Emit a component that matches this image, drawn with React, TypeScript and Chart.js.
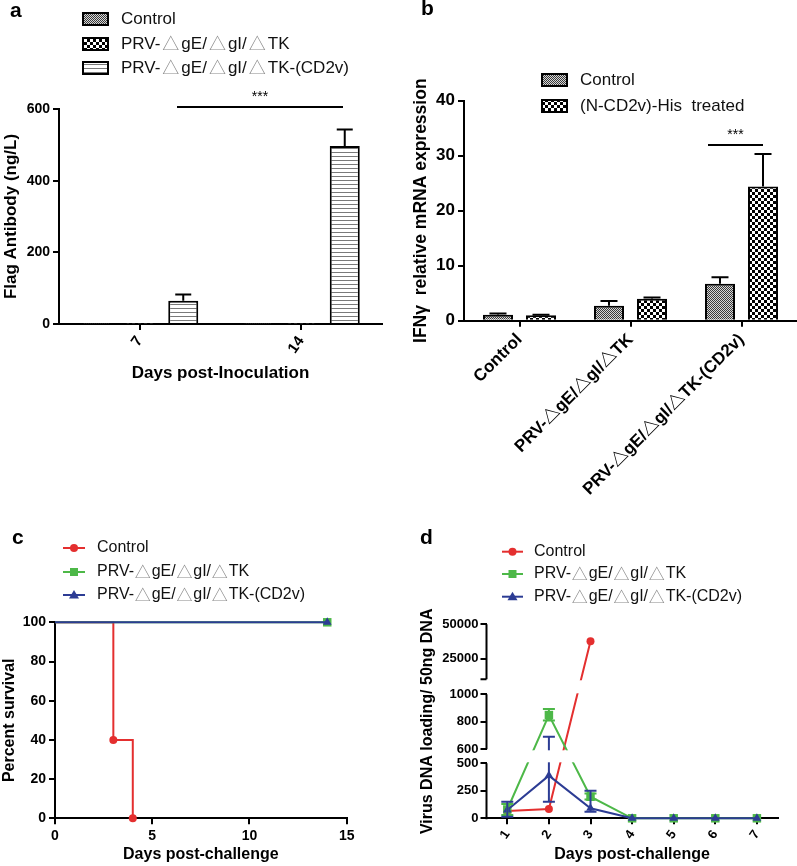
import React, { useEffect, useRef } from 'react';
import { Chart, registerables } from 'chart.js';

Chart.register(...registerables);

const FONT = "'Liberation Sans', 'Noto Sans CJK SC', sans-serif";
const TRI_FONT = "'Noto Sans CJK SC', sans-serif";
const RED = '#e42f2f';
const GREEN = '#4db848';
const BLUE = '#2c3c94';

// ---------- Panel a ----------
const aCategories = ['7', '14'];
const aSeriesNames = ['Control', 'PRV-△gE/△gI/△TK', 'PRV-△gE/△gI/△TK-(CD2v)'];
const aControl = [1.5, 1.5];
const aPRV = [1.5, 1.5];
const aCD2v = [65, 497];
const aCD2vErr = [17, 46];

// ---------- Panel b ----------
const bCategories = ['Control', 'PRV-△gE/△gI/△TK', 'PRV-△gE/△gI/△TK-(CD2v)'];
const bSeriesNames = ['Control', '(N-CD2v)-His  treated'];
const bControl = [1.1, 2.7, 6.7];
const bControlErr = [0.2, 0.9, 1.2];
const bTreated = [1.0, 4.0, 24.4];
const bTreatedErr = [0.1, 0.2, 5.9];

// ---------- Panel c ----------
const cSeriesNames = ['Control', 'PRV-△gE/△gI/△TK', 'PRV-△gE/△gI/△TK-(CD2v)'];
const cControlDays = [0, 3, 4];
const cControlSurvival = [100, 40, 0];
const cVaccineDays = [0, 14];
const cPRVSurvival = [100, 100];
const cCD2vSurvival = [100, 100];

// ---------- Panel d ----------
const dSeriesNames = ['Control', 'PRV-△gE/△gI/△TK', 'PRV-△gE/△gI/△TK-(CD2v)'];
const dDays = ['1', '2', '3', '4', '5', '6', '7'];
const dControl = [66, 85, 37700, null, null, null, null];
const dPRV = [80, 849, 196, 0, 0, 0, 0];
const dPRVLow = [30, 810, 170, 0, 0, 0, 0];
const dPRVHigh = [130, 893, 225, 0, 0, 0, 0];
const dCD2v = [75, 388, 91, 0, 0, 0, 0];
const dCD2vLow = [15, 150, 60, 0, 0, 0, 0];
const dCD2vHigh = [150, 692, 250, 0, 0, 0, 0];
const dTickValues = [0, 250, 500, 600, 800, 1000, 25000, 50000];
const dTickLabels = ['0', '250', '500', '600', '800', '1000', '25000', '50000'];
const dSegments = [[0, 500], [600, 1000], [10000, 50000]];

// broken-axis geometry (display units of the y scale)
const D_SEG_LEN = 55;
const D_GAPS = [14, 15];
const D_MAX = D_SEG_LEN * 3 + D_GAPS[0] + D_GAPS[1];

function dMap(v: number): number {
  let base = 0;
  for (let i = 0; i < dSegments.length; i++) {
    const [lo, hi] = dSegments[i];
    if (v <= hi || i === dSegments.length - 1) {
      if (v < lo && i > 0) {
        const phi = dSegments[i - 1][1];
        return base - D_GAPS[i - 1] + ((v - phi) / (lo - phi)) * D_GAPS[i - 1];
      }
      return base + ((v - lo) / (hi - lo)) * D_SEG_LEN;
    }
    base += D_SEG_LEN + (D_GAPS[i] ?? 0);
  }
  return base;
}

function makePattern(kind: 'fine' | 'check' | 'stripe'): CanvasPattern {
  const c = document.createElement('canvas');
  const g = c.getContext('2d')!;
  if (kind === 'fine') {
    c.width = 2; c.height = 2;
    g.fillStyle = '#d6d6d6'; g.fillRect(0, 0, 2, 2);
    g.fillStyle = '#3a3a3a'; g.fillRect(0, 0, 1, 1); g.fillRect(1, 1, 1, 1);
  } else if (kind === 'check') {
    c.width = 6; c.height = 6;
    g.fillStyle = '#fff'; g.fillRect(0, 0, 6, 6);
    g.fillStyle = '#000'; g.fillRect(0, 0, 3, 3); g.fillRect(3, 3, 3, 3);
  } else {
    c.width = 4; c.height = 4;
    g.fillStyle = '#fff'; g.fillRect(0, 0, 4, 4);
    g.fillStyle = '#7a7a7a'; g.fillRect(0, 0, 4, 1);
  }
  return g.createPattern(c, 'repeat')!;
}

function drawRich(ctx: CanvasRenderingContext2D, text: string, x: number, y: number, size: number, triPad: number) {
  const parts = text.split(/(△)/);
  let cx = x;
  for (const p of parts) {
    if (!p) continue;
    if (p === '△') {
      ctx.font = `${size}px ${TRI_FONT}`;
      ctx.fillStyle = '#8c8c8c';
      cx += triPad;
      ctx.fillText(p, cx, y);
      cx += ctx.measureText(p).width + triPad;
    } else {
      ctx.font = `${size}px ${FONT}`;
      ctx.fillStyle = '#111';
      ctx.fillText(p, cx, y);
      cx += ctx.measureText(p).width;
    }
  }
}

function drawMarker(ctx: CanvasRenderingContext2D, style: string, x: number, y: number, color: string) {
  ctx.fillStyle = color;
  ctx.beginPath();
  if (style === 'circle') {
    ctx.arc(x, y, 4, 0, Math.PI * 2);
  } else if (style === 'rect') {
    ctx.rect(x - 4, y - 4, 8, 8);
  } else {
    ctx.moveTo(x, y - 5);
    ctx.lineTo(x + 5, y + 3.5);
    ctx.lineTo(x - 5, y + 3.5);
    ctx.closePath();
  }
  ctx.fill();
}

function panelLetter(ctx: CanvasRenderingContext2D, letter: string, x: number, y: number) {
  ctx.save();
  ctx.font = `bold 21px ${FONT}`;
  ctx.fillStyle = '#000';
  ctx.textBaseline = 'alphabetic';
  ctx.fillText(letter, x, y);
  ctx.restore();
}

function barLegend(ctx: CanvasRenderingContext2D, labels: string[], fills: any[], x: number, ys: number[], textX: number) {
  ctx.save();
  ctx.textBaseline = 'middle';
  labels.forEach((lab, i) => {
    ctx.fillStyle = fills[i];
    ctx.fillRect(x, ys[i] - 6, 25, 12);
    ctx.strokeStyle = '#000';
    ctx.lineWidth = 2;
    ctx.strokeRect(x, ys[i] - 6, 25, 12);
    drawRich(ctx, lab, textX, ys[i], 17, 2);
  });
  ctx.restore();
}

function lineLegend(ctx: CanvasRenderingContext2D, labels: string[], colors: string[], styles: string[], x1: number, x2: number, ys: number[], textX: number) {
  ctx.save();
  ctx.textBaseline = 'middle';
  labels.forEach((lab, i) => {
    ctx.strokeStyle = colors[i];
    ctx.lineWidth = 2;
    ctx.beginPath();
    ctx.moveTo(x1, ys[i]);
    ctx.lineTo(x2, ys[i]);
    ctx.stroke();
    drawMarker(ctx, styles[i], (x1 + x2) / 2, ys[i], colors[i]);
    drawRich(ctx, lab, textX, ys[i], 16, 0.8);
  });
  ctx.restore();
}

function sigMark(ctx: CanvasRenderingContext2D, x1: number, x2: number, y: number) {
  ctx.save();
  ctx.strokeStyle = '#000';
  ctx.lineWidth = 2;
  ctx.beginPath();
  ctx.moveTo(x1, y);
  ctx.lineTo(x2, y);
  ctx.stroke();
  ctx.font = `14px ${FONT}`;
  ctx.fillStyle = '#000';
  ctx.textAlign = 'center';
  ctx.textBaseline = 'alphabetic';
  ctx.fillText('***', (x1 + x2) / 2, y - 6);
  ctx.restore();
}

function barErrorPlugin(specs: { ds: number; err: number[] }[], cap: number) {
  return {
    id: 'barErrors',
    afterDatasetsDraw(chart: any) {
      const ctx = chart.ctx;
      const y = chart.scales.y;
      ctx.save();
      ctx.strokeStyle = '#000';
      ctx.lineWidth = 2;
      specs.forEach((s) => {
        const meta = chart.getDatasetMeta(s.ds);
        const values = chart.data.datasets[s.ds].data as number[];
        meta.data.forEach((el: any, i: number) => {
          const e = s.err[i];
          if (!e) return;
          const top = y.getPixelForValue(values[i]);
          const hi = y.getPixelForValue(values[i] + e);
          ctx.beginPath();
          ctx.moveTo(el.x, top);
          ctx.lineTo(el.x, hi);
          ctx.moveTo(el.x - cap / 2, hi);
          ctx.lineTo(el.x + cap / 2, hi);
          ctx.stroke();
        });
      });
      ctx.restore();
    },
  };
}

function axisStyle(fontSize: number, extraTicks: any = {}, extraGrid: any = {}) {
  return {
    border: { display: true, color: '#000', width: 2 },
    grid: { display: true, drawOnChartArea: false, drawTicks: true, tickLength: 6, color: '#000', lineWidth: 2, ...extraGrid },
    ticks: { color: '#000', font: { family: FONT, size: fontSize, weight: 'bold' }, padding: 3, ...extraTicks },
  };
}

function axisTitle(text: string, size: number, padTop: number) {
  return { display: true, text, color: '#000', font: { family: FONT, size, weight: 'bold' }, padding: { top: padTop, bottom: 0 } };
}

export default function App() {
  const refA = useRef<HTMLCanvasElement>(null);
  const refB = useRef<HTMLCanvasElement>(null);
  const refC = useRef<HTMLCanvasElement>(null);
  const refD = useRef<HTMLCanvasElement>(null);

  useEffect(() => {
    const fine = makePattern('fine');
    const check = makePattern('check');
    const stripe = makePattern('stripe');

    // ---------------- Panel a ----------------
    const aFills = [fine, check, stripe];
    const chartA = new Chart(refA.current!, {
      type: 'bar',
      data: {
        labels: aCategories,
        datasets: [aControl, aPRV, aCD2v].map((d, i) => ({
          label: aSeriesNames[i],
          data: d,
          backgroundColor: aFills[i],
          borderColor: '#000',
          borderWidth: 2,
          categoryPercentage: 0.808,
          barPercentage: 0.69,
        })),
      },
      options: {
        responsive: false,
        animation: false,
        layout: { padding: { left: 0, top: 109, right: 16, bottom: 36.8 } },
        plugins: { legend: { display: false }, tooltip: { enabled: false } },
        scales: {
          x: {
            ...axisStyle(15, { minRotation: 55, maxRotation: 55 }, { offset: false }),
            title: axisTitle('Days post-Inoculation', 17, 0),
            afterFit: (s: any) => { s.height = 59.2; },
          },
          y: {
            ...axisStyle(14, { stepSize: 200 }),
            min: 0,
            max: 600,
            title: axisTitle('Flag Antibody (ng/L)', 17, 1),
            afterFit: (s: any) => { s.width = 59; },
          },
        },
      } as any,
      plugins: [
        barErrorPlugin([{ ds: 2, err: aCD2vErr }], 16),
        {
          id: 'decorA',
          afterDraw(chart: any) {
            const ctx = chart.ctx;
            panelLetter(ctx, 'a', 10, 17);
            barLegend(ctx, aSeriesNames, aFills, 83, [19, 44, 68], 121);
            sigMark(ctx, 177, 343, 107);
          },
        },
      ],
    });

    // ---------------- Panel b ----------------
    const bFills = [fine, check];
    const chartB = new Chart(refB.current!, {
      type: 'bar',
      data: {
        labels: bCategories,
        datasets: [bControl, bTreated].map((d, i) => ({
          label: bSeriesNames[i],
          data: d,
          backgroundColor: bFills[i],
          borderColor: '#000',
          borderWidth: 2,
          categoryPercentage: 0.775,
          barPercentage: 0.698,
        })),
      },
      options: {
        responsive: false,
        animation: false,
        layout: { padding: { left: 0, top: 100.7, right: 0, bottom: 0 } },
        plugins: { legend: { display: false }, tooltip: { enabled: false } },
        scales: {
          x: {
            ...axisStyle(17, { minRotation: 45, maxRotation: 45 }, { offset: false }),
            afterFit: (s: any) => { s.height = 204.3; },
          },
          y: {
            ...axisStyle(17, { stepSize: 10 }),
            min: 0,
            max: 40,
            title: axisTitle('IFNγ  relative mRNA expression', 17.5, 12.5),
            afterFit: (s: any) => { s.width = 66; },
          },
        },
      } as any,
      plugins: [
        barErrorPlugin([{ ds: 0, err: bControlErr }, { ds: 1, err: bTreatedErr }], 17),
        {
          id: 'decorB',
          afterDraw(chart: any) {
            const ctx = chart.ctx;
            panelLetter(ctx, 'b', 23, 15);
            barLegend(ctx, bSeriesNames, bFills, 144, [80, 106], 182);
            sigMark(ctx, 310, 365, 145);
          },
        },
      ],
    });

    // ---------------- Panel c ----------------
    const cColors = [RED, GREEN, BLUE];
    const cStyles = ['circle', 'rect', 'triangle'];
    const toXY = (xs: number[], ys: number[]) => xs.map((x, i) => ({ x, y: ys[i] }));
    const chartC = new Chart(refC.current!, {
      type: 'line',
      data: {
        datasets: [
          {
            label: cSeriesNames[0],
            data: toXY(cControlDays, cControlSurvival),
            stepped: true,
            borderColor: RED,
            backgroundColor: RED,
            borderWidth: 2,
            pointStyle: 'circle',
            pointRadius: [0, 4, 4],
            pointBorderWidth: 0,
            clip: false,
            order: 2,
          },
          {
            label: cSeriesNames[1],
            data: toXY(cVaccineDays, cPRVSurvival),
            borderColor: GREEN,
            backgroundColor: GREEN,
            borderWidth: 2,
            pointStyle: 'rect',
            pointRadius: [0, 6],
            pointBorderWidth: 0,
            clip: false,
            order: 1,
          },
          {
            label: cSeriesNames[2],
            data: toXY(cVaccineDays, cCD2vSurvival),
            borderColor: BLUE,
            backgroundColor: BLUE,
            borderWidth: 2,
            pointStyle: 'triangle',
            pointRadius: [0, 5],
            pointBorderWidth: 0,
            clip: false,
            order: 0,
          },
        ],
      },
      options: {
        responsive: false,
        animation: false,
        layout: { padding: { left: 0, top: 202.3, right: 51.3, bottom: 1.4 } },
        plugins: { legend: { display: false }, tooltip: { enabled: false } },
        scales: {
          x: {
            type: 'linear',
            ...axisStyle(14, { stepSize: 5 }),
            min: 0,
            max: 15,
            title: axisTitle('Days post-challenge', 16, 0),
            afterFit: (s: any) => { s.height = 46.3; },
          },
          y: {
            ...axisStyle(14, { stepSize: 20 }),
            min: 0,
            max: 100,
            title: axisTitle('Percent survival', 16, 0.4),
            afterFit: (s: any) => { s.width = 55; },
          },
        },
      } as any,
      plugins: [
        {
          id: 'decorC',
          afterDraw(chart: any) {
            const ctx = chart.ctx;
            panelLetter(ctx, 'c', 12, 124);
            lineLegend(ctx, cSeriesNames, cColors, cStyles, 63, 85, [128, 152, 175], 97);
          },
        },
      ],
    });

    // ---------------- Panel d ----------------
    const dColors = [RED, GREEN, BLUE];
    const dStyles = ['circle', 'rect', 'triangle'];
    const mapArr = (arr: (number | null)[]) => arr.map((v) => (v == null ? null : dMap(v)));
    const dErrSpecs = [
      { ds: 1, low: dPRVLow, high: dPRVHigh, color: GREEN },
      { ds: 2, low: dCD2vLow, high: dCD2vHigh, color: BLUE },
    ];
    const chartD = new Chart(refD.current!, {
      type: 'line',
      data: {
        labels: dDays,
        datasets: [
          { label: dSeriesNames[0], data: mapArr(dControl), borderColor: RED, backgroundColor: RED, borderWidth: 2, pointStyle: 'circle', pointRadius: 4, pointBorderWidth: 0, clip: false, order: 2 },
          { label: dSeriesNames[1], data: mapArr(dPRV), borderColor: GREEN, backgroundColor: GREEN, borderWidth: 2, pointStyle: 'rect', pointRadius: 6, pointBorderWidth: 0, clip: false, order: 1 },
          { label: dSeriesNames[2], data: mapArr(dCD2v), borderColor: BLUE, backgroundColor: BLUE, borderWidth: 2, pointStyle: 'triangle', pointRadius: 5, pointBorderWidth: 0, clip: false, order: 0 },
        ],
      },
      options: {
        responsive: false,
        animation: false,
        layout: { padding: { left: 0, top: 99.3, right: 19.3, bottom: 1.4 } },
        plugins: { legend: { display: false }, tooltip: { enabled: false } },
        scales: {
          x: {
            type: 'category',
            offset: true,
            ...axisStyle(13, { minRotation: 55, maxRotation: 55 }, { offset: false }),
            title: axisTitle('Days post-challenge', 16, 0),
            afterFit: (s: any) => { s.height = 46.3; },
          },
          y: {
            ...axisStyle(13, { autoSkip: false, padding: 2, callback: (_v: any, i: number) => dTickLabels[i] }),
            border: { display: false },
            min: 0,
            max: D_MAX,
            afterBuildTicks: (s: any) => { s.ticks = dTickValues.map((v) => ({ value: dMap(v) })); },
            title: axisTitle('Virus DNA loading/ 50ng DNA', 16, 20.4),
            afterFit: (s: any) => { s.width = 88.5; },
          },
        },
      } as any,
      plugins: [
        {
          id: 'brokenAxis',
          afterDatasetsDraw(chart: any) {
            const ctx = chart.ctx;
            const ys = chart.scales.y;
            const area = chart.chartArea;
            ctx.save();
            ctx.lineWidth = 2;
            // error bars
            dErrSpecs.forEach((s) => {
              const meta = chart.getDatasetMeta(s.ds);
              meta.data.forEach((pt: any, i: number) => {
                const lo = s.low[i];
                const hi = s.high[i];
                if (lo == null || hi == null || hi - lo <= 0) return;
                const yl = ys.getPixelForValue(dMap(lo));
                const yh = ys.getPixelForValue(dMap(hi));
                ctx.strokeStyle = s.color;
                ctx.beginPath();
                ctx.moveTo(pt.x, yl); ctx.lineTo(pt.x, yh);
                ctx.moveTo(pt.x - 6, yh); ctx.lineTo(pt.x + 6, yh);
                ctx.moveTo(pt.x - 6, yl); ctx.lineTo(pt.x + 6, yl);
                ctx.stroke();
              });
            });
            // gaps of the broken axis
            ctx.fillStyle = '#fff';
            for (let i = 0; i < dSegments.length - 1; i++) {
              const yTop = ys.getPixelForValue(dMap(dSegments[i + 1][0]));
              const yBot = ys.getPixelForValue(dMap(dSegments[i][1]));
              ctx.fillRect(area.left + 1.5, yTop + 1, area.right - area.left, yBot - yTop - 2);
            }
            // axis segments
            ctx.strokeStyle = '#000';
            ctx.beginPath();
            dSegments.forEach(([lo, hi]) => {
              ctx.moveTo(area.left, ys.getPixelForValue(dMap(lo)) + (lo === 0 ? 1 : 0));
              ctx.lineTo(area.left, ys.getPixelForValue(dMap(hi)));
            });
            const stubY = ys.getPixelForValue(dMap(dSegments[2][0]));
            ctx.moveTo(area.left - 6, stubY);
            ctx.lineTo(area.left, stubY);
            ctx.stroke();
            ctx.restore();
          },
          afterDraw(chart: any) {
            const ctx = chart.ctx;
            panelLetter(ctx, 'd', 22, 19);
            lineLegend(ctx, dSeriesNames, dColors, dStyles, 104, 125, [26.7, 49, 71.7], 136);
          },
        },
      ],
    });

    return () => {
      chartA.destroy();
      chartB.destroy();
      chartC.destroy();
      chartD.destroy();
    };
  }, []);

  const abs = (left: number, top: number): React.CSSProperties => ({ position: 'absolute', left, top, display: 'block' });

  return (
    <div style={{ position: 'absolute', left: 0, top: 0, width: 797, height: 866, background: '#fff', overflow: 'hidden' }}>
      <canvas ref={refA} width={398} height={420} style={abs(0, 0)} />
      <canvas ref={refB} width={399} height={525} style={abs(398, 0)} />
      <canvas ref={refC} width={398} height={446} style={abs(0, 420)} />
      <canvas ref={refD} width={399} height={341} style={abs(398, 525)} />
    </div>
  );
}
